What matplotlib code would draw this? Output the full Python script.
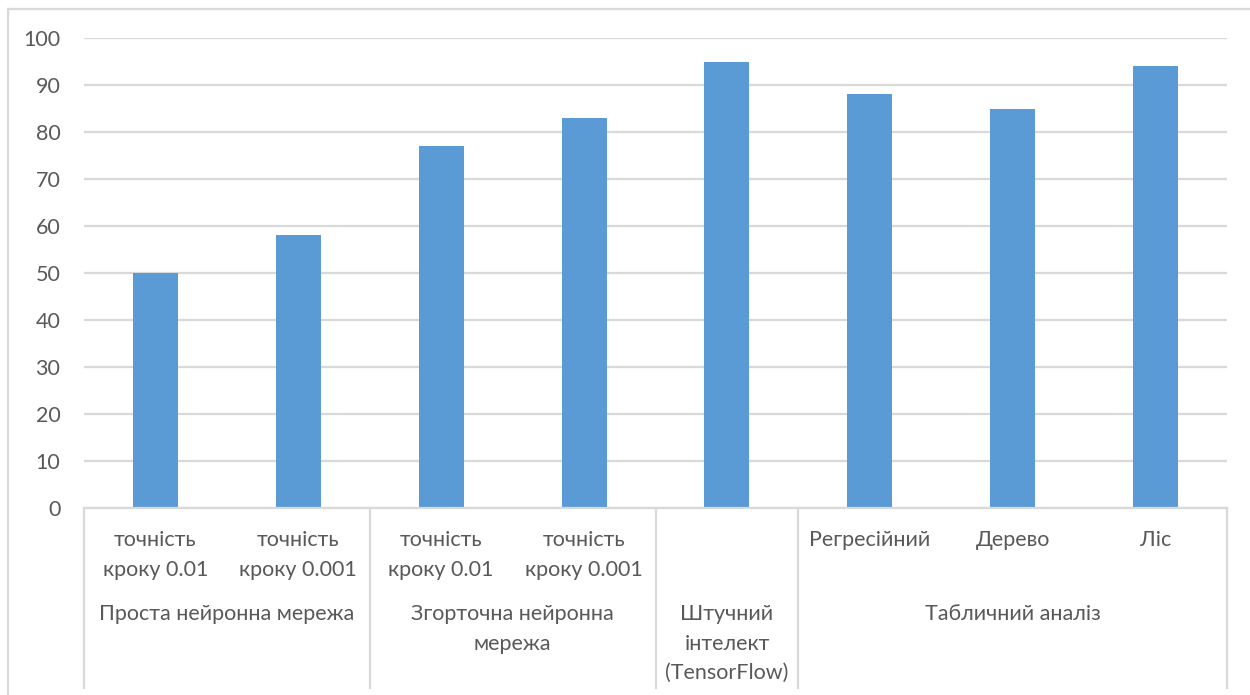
import matplotlib
matplotlib.use("Agg")
import matplotlib.pyplot as plt
from matplotlib.lines import Line2D
import matplotlib.transforms as mtransforms

# accuracy of the compared models
labels = ["точність\nкроку 0.01", "точність\nкроку 0.001",
          "точність\nкроку 0.01", "точність\nкроку 0.001",
          "", "Регресійний", "Дерево", "Ліс"]
values = [50, 58, 77, 83, 95, 88, 85, 94]
groups = ["Проста нейронна мережа", "Згорточна нейронна\nмережа",
          "Штучний\nінтелект\n(TensorFlow)", "Табличний аналіз"]
group_sizes = [2, 2, 1, 3]
yticks = [0, 10, 20, 30, 40, 50, 60, 70, 80, 90, 100]

BAR = "#5B9BD5"
GRID = "#D9D9D9"
TXT = "#595959"
FONT = "Lato"
FS = 15.5

W, H = 1250, 695
fig = plt.figure(figsize=(W / 100, H / 100), dpi=100)
ax = fig.add_axes([84 / W, 1 - 508 / H, (1227 - 84) / W, (508 - 38) / H])

x = list(range(len(values)))
ax.bar(x, values, width=0.315, color=BAR, zorder=3)
ax.set_xlim(-0.5, len(values) - 0.5)
ax.set_ylim(0, 100)
ax.set_yticks(yticks)
ax.set_yticklabels([str(t) for t in yticks], fontname=FONT, fontsize=FS, color=TXT)
ax.tick_params(axis="y", length=0, pad=17)
ax.set_xticks([])
ax.grid(axis="y", color=GRID, linewidth=1.6, zorder=0)
for s in ["top", "right", "left"]:
    ax.spines[s].set_visible(False)
ax.spines["bottom"].set_color(GRID)
ax.spines["bottom"].set_linewidth(1.6)
ax.spines["bottom"].set_zorder(4)

# x in data units, y in pixels from the top of the figure
trans = mtransforms.blended_transform_factory(ax.transData, fig.dpi_scale_trans)
def px(y):
    return (H - y) / 100

def put(xc, top, text, step=29.5):
    for i, line in enumerate(text.split("\n")):
        ax.text(xc, px(top + i * step), line, transform=trans, ha="center",
                va="center", fontname=FONT, fontsize=FS, color=TXT, clip_on=False)

for xi, lab in zip(x, labels):
    if lab:
        put(xi, 540, lab)

# group separators and group labels
start = 0
bounds = [-0.5]
for g, n in zip(groups, group_sizes):
    put(start + (n - 1) / 2, 614, g)
    start += n
    bounds.append(start - 0.5)
for b in bounds:
    ax.add_line(Line2D([b, b], [px(508), px(688)], transform=trans, color=GRID,
                       linewidth=1.6, clip_on=False))

# chart frame
fig.add_artist(Line2D([8 / W, 8 / W], [0, 1 - 9 / H], color=GRID, linewidth=1.6))
fig.add_artist(Line2D([8 / W, 1], [1 - 9 / H, 1 - 9 / H], color=GRID, linewidth=1.6))

fig.savefig("out.png", dpi=100)
